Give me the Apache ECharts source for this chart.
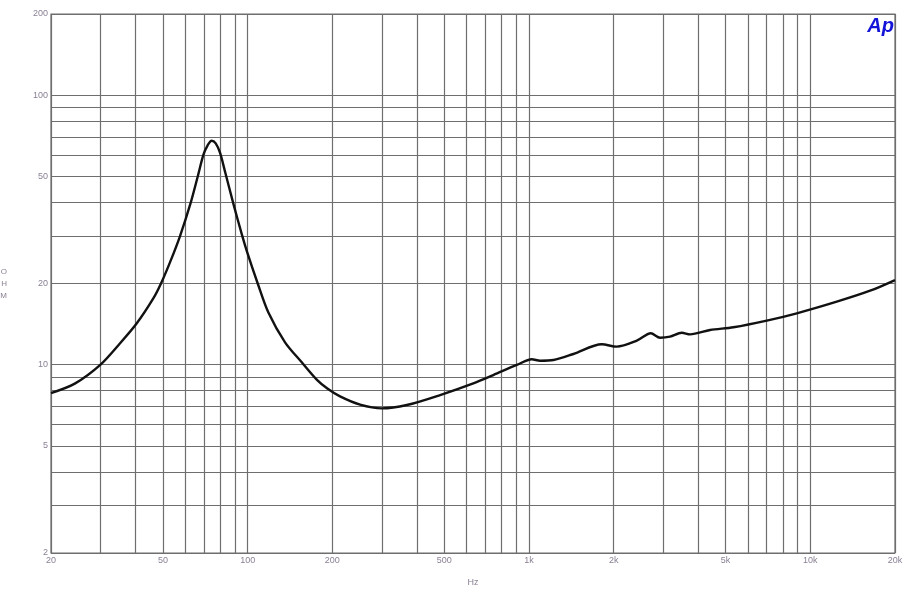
<!DOCTYPE html>
<html>
<head>
<meta charset="utf-8">
<script src="https://cdn.jsdelivr.net/npm/echarts@6/dist/echarts.min.js"></script>
<style>html,body{margin:0;padding:0;background:#fff}#c{width:911px;height:600px}</style>
</head>
<body>
<div id="c"></div>
<script>
// Impedance curve (frequency in Hz, impedance in ohm)
var freqHz = [20, 24.3, 30, 35.2, 40.3, 46.2, 49.2, 53, 57.5, 62.8, 66.5, 69.6, 72, 74.5, 77, 79.8, 83.3, 89.0, 95.3, 100, 108.6, 118.5, 135.8, 155.7, 176, 192, 213, 251, 300, 368, 483, 634, 747, 905, 1023, 1095, 1221, 1439, 1815, 2051, 2417, 2710, 2925, 3173, 3492, 3738, 4402, 5330, 7003, 8953, 12420, 16315, 20000];
var impedanceOhm = [7.84, 8.5, 10.0, 12.0, 14.2, 17.6, 20.0, 24.0, 30.0, 40.0, 50.0, 60.0, 65.0, 67.7, 66.2, 61.0, 51.5, 39.5, 30.5, 25.8, 20.0, 15.6, 12.1, 10.2, 8.8, 8.15, 7.62, 7.1, 6.88, 7.08, 7.71, 8.52, 9.15, 9.97, 10.47, 10.34, 10.4, 10.95, 11.9, 11.66, 12.27, 13.07, 12.58, 12.7, 13.13, 12.95, 13.44, 13.76, 14.56, 15.5, 17.12, 18.8, 20.6];

// Axis ticks and labels
var xTickValues = [20, 50, 100, 200, 500, 1000, 2000, 5000, 10000, 20000];
var xTickLabels = ['20', '50', '100', '200', '500', '1k', '2k', '5k', '10k', '20k'];
var yTickValues = [2, 5, 10, 20, 50, 100, 200];
var yTickLabels = ['2', '5', '10', '20', '50', '100', '200'];
// Unlabelled grid lines
var xGridValues = [30, 40, 60, 70, 80, 90, 300, 400, 600, 700, 800, 900, 3000, 4000, 6000, 7000, 8000, 9000];
var yGridValues = [3, 4, 6, 7, 8, 9, 30, 40, 60, 70, 80, 90];

var gridColor = '#6e6e6e';
var labelColor = '#8a8094';
var labelFont = { color: labelColor, fontSize: 9, fontFamily: 'Liberation Sans' };

var markData = [];
xGridValues.forEach(function (v) { markData.push({ xAxis: v, label: { show: false } }); });
yGridValues.forEach(function (v) { markData.push({ yAxis: v, label: { show: false } }); });
xTickValues.forEach(function (v, i) {
  markData.push({ xAxis: v, label: Object.assign({ show: true, position: 'start', distance: 3, formatter: xTickLabels[i] }, labelFont) });
});
yTickValues.forEach(function (v, i) {
  markData.push({ yAxis: v, label: Object.assign({ show: true, position: 'start', distance: 3, formatter: yTickLabels[i] }, labelFont) });
});

var chart = echarts.init(document.getElementById('c'), null, { renderer: 'canvas' });
chart.setOption({
  animation: false,
  backgroundColor: '#ffffff',
  grid: { left: 51, right: 16, top: 14, bottom: 47, containLabel: false, outerBoundsMode: 'none', show: true, borderColor: gridColor, borderWidth: 1.2, backgroundColor: 'transparent' },
  xAxis: {
    type: 'log', logBase: 10, min: 20, max: 20000,
    name: 'Hz', nameLocation: 'middle', nameGap: 25,
    nameTextStyle: { color: labelColor, fontSize: 9, fontFamily: 'Liberation Sans' },
    axisLine: { show: false }, axisTick: { show: false }, axisLabel: { show: false }, splitLine: { show: false }
  },
  yAxis: {
    type: 'log', logBase: 10, min: 2, max: 200,
    name: 'O\nH\nM', nameLocation: 'middle', nameGap: 44, nameRotate: 0,
    nameTextStyle: { color: labelColor, fontSize: 8, fontFamily: 'Liberation Sans', lineHeight: 12 },
    axisLine: { show: false }, axisTick: { show: false }, axisLabel: { show: false }, splitLine: { show: false }
  },
  graphic: [{
    type: 'text', right: 17, top: 16, z: 100,
    style: { text: 'Ap', fill: '#1414d8', font: 'italic bold 20px "Liberation Sans"' }
  }],
  series: [{
    type: 'line', name: 'grid', data: [[20, 2]], symbol: 'none', silent: true, z: 1,
    lineStyle: { opacity: 0 },
    markLine: {
      silent: true, symbol: ['none', 'none'], animation: false,
      lineStyle: { color: gridColor, width: 1.2, type: 'solid' },
      emphasis: { disabled: true },
      data: markData
    }
  }, {
    type: 'line', name: 'Impedance', z: 5,
    data: freqHz.map(function (f, i) { return [f, impedanceOhm[i]]; }),
    symbol: 'none', smooth: 0.3,
    lineStyle: { color: '#111111', width: 2.4 }
  }]
});
</script>
</body>
</html>
